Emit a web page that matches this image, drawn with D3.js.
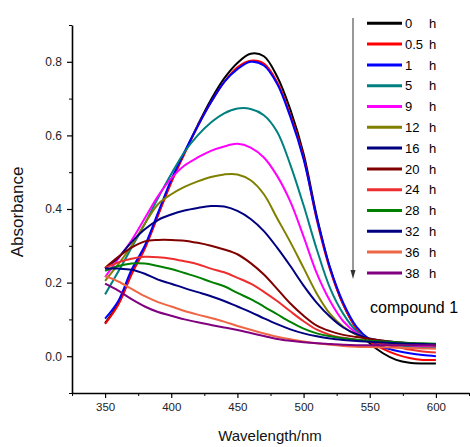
<!DOCTYPE html>
<html>
<head>
<meta charset="utf-8">
<script src="https://cdn.jsdelivr.net/npm/d3@7"></script>
<style>
  body { margin: 0; background: #fff; }
  text { font-family: Arial, "Liberation Sans", sans-serif; }
</style>
</head>
<body>
<div id="chart"></div>
<script>
// Wavelengths (nm) sampled from the spectra
const wavelengths = [350, 360, 370, 380, 390, 400, 410, 420, 430, 440, 450, 460, 470,
                     480, 490, 500, 510, 520, 530, 540, 550, 560, 570, 580, 590, 600];

// Absorbance, one array per time
const abs0h  = [0.090, 0.143, 0.225, 0.295, 0.385, 0.475, 0.553, 0.628, 0.697, 0.755, 0.797, 0.822, 0.815,
                0.760, 0.670, 0.550, 0.380, 0.240, 0.140, 0.075, 0.035, 0.008, -0.010, -0.018, -0.020, -0.020];
const abs05h = [0.088, 0.140, 0.222, 0.292, 0.382, 0.472, 0.550, 0.625, 0.690, 0.745, 0.785, 0.803, 0.795,
                0.745, 0.655, 0.540, 0.370, 0.235, 0.140, 0.075, 0.040, 0.020, 0.005, -0.005, -0.010, -0.010];
const abs1h  = [0.102, 0.150, 0.235, 0.300, 0.390, 0.480, 0.555, 0.625, 0.690, 0.745, 0.780, 0.800, 0.790,
                0.740, 0.650, 0.535, 0.375, 0.240, 0.145, 0.080, 0.045, 0.025, 0.015, 0.008, 0.003, 0.000];
const abs5h  = [0.168, 0.230, 0.295, 0.360, 0.430, 0.495, 0.555, 0.600, 0.635, 0.660, 0.673, 0.672, 0.655,
                0.610, 0.520, 0.410, 0.290, 0.185, 0.115, 0.068, 0.045, 0.035, 0.030, 0.027, 0.025, 0.024];
const abs9h  = [0.215, 0.265, 0.315, 0.375, 0.435, 0.483, 0.518, 0.540, 0.558, 0.570, 0.577, 0.567, 0.540,
                0.490, 0.420, 0.325, 0.225, 0.150, 0.095, 0.063, 0.045, 0.037, 0.033, 0.030, 0.028, 0.027];
const abs12h = [0.205, 0.250, 0.300, 0.360, 0.413, 0.440, 0.460, 0.475, 0.487, 0.494, 0.494, 0.478, 0.440,
                0.375, 0.310, 0.240, 0.170, 0.115, 0.080, 0.058, 0.045, 0.038, 0.034, 0.031, 0.030, 0.029];
const abs16h = [0.238, 0.268, 0.310, 0.345, 0.370, 0.385, 0.396, 0.403, 0.408, 0.407, 0.395, 0.373, 0.340,
                0.295, 0.245, 0.192, 0.145, 0.107, 0.078, 0.060, 0.048, 0.042, 0.038, 0.035, 0.033, 0.032];
const abs20h = [0.240, 0.270, 0.295, 0.312, 0.316, 0.316, 0.314, 0.308, 0.300, 0.290, 0.277, 0.253, 0.222,
                0.183, 0.143, 0.110, 0.083, 0.068, 0.058, 0.052, 0.047, 0.042, 0.038, 0.035, 0.032, 0.030];
const abs24h = [0.240, 0.255, 0.265, 0.270, 0.269, 0.265, 0.258, 0.250, 0.238, 0.228, 0.213, 0.197, 0.175,
                0.150, 0.122, 0.095, 0.072, 0.058, 0.050, 0.045, 0.040, 0.033, 0.025, 0.018, 0.013, 0.010];
const abs28h = [0.232, 0.245, 0.252, 0.252, 0.245, 0.237, 0.226, 0.215, 0.202, 0.190, 0.172, 0.155, 0.135,
                0.114, 0.093, 0.075, 0.062, 0.054, 0.049, 0.045, 0.042, 0.040, 0.038, 0.036, 0.035, 0.034];
const abs32h = [0.238, 0.238, 0.235, 0.224, 0.208, 0.197, 0.185, 0.174, 0.163, 0.150, 0.135, 0.120, 0.103,
                0.087, 0.073, 0.062, 0.054, 0.048, 0.044, 0.041, 0.039, 0.037, 0.035, 0.034, 0.033, 0.032];
const abs36h = [0.218, 0.203, 0.183, 0.163, 0.147, 0.135, 0.123, 0.113, 0.104, 0.094, 0.082, 0.072, 0.062,
                0.053, 0.046, 0.040, 0.035, 0.031, 0.028, 0.026, 0.025, 0.024, 0.023, 0.022, 0.021, 0.020];
const abs38h = [0.197, 0.178, 0.155, 0.135, 0.120, 0.110, 0.100, 0.092, 0.085, 0.078, 0.071, 0.063, 0.055,
                0.047, 0.042, 0.038, 0.035, 0.033, 0.031, 0.030, 0.030, 0.030, 0.030, 0.030, 0.030, 0.030];

const timeLabels = ["0", "0.5", "1", "5", "9", "12", "16", "20", "24", "28", "32", "36", "38"];
const seriesValues = [abs0h, abs05h, abs1h, abs5h, abs9h, abs12h, abs16h, abs20h, abs24h, abs28h, abs32h, abs36h, abs38h];
const colors = ["#000000", "#ff0000", "#0000ff", "#008080", "#ff00ff", "#808000", "#000080",
                "#800000", "#ee2e2e", "#008000", "#000080", "#ee6644", "#800080"];

const xMajor = [350, 400, 450, 500, 550, 600];
const yMajor = [0.0, 0.2, 0.4, 0.6, 0.8];

const W = 470, H = 447;
const margin = {top: 25, right: 1, bottom: 54, left: 72};
const width = W - margin.left - margin.right,
      height = H - margin.top - margin.bottom;

const svg = d3.select("#chart")
  .append("svg")
    .attr("width", W)
    .attr("height", H);

const g = svg.append("g")
    .attr("transform", `translate(${margin.left},${margin.top})`);

const x = d3.scaleLinear().domain([325, 625]).range([0, width]);
const y = d3.scaleLinear().domain([-0.1, 0.9]).range([height, 0]);

// Minor ticks
g.append("g")
    .attr("transform", `translate(0,${height})`)
    .call(d3.axisBottom(x).tickValues(d3.range(325, 626, 25).filter(v => v % 50 !== 0))
      .tickSize(3).tickFormat("").tickSizeOuter(0))
    .call(a => a.select(".domain").remove());
g.append("g")
    .call(d3.axisLeft(y).tickValues([-0.1, 0.1, 0.3, 0.5, 0.7, 0.9]).tickSize(3).tickFormat("").tickSizeOuter(0))
    .call(a => a.select(".domain").remove());

// Major axes
const xAxis = g.append("g")
    .attr("transform", `translate(0,${height})`)
    .call(d3.axisBottom(x).tickValues(xMajor).tickSize(5).tickPadding(5).tickSizeOuter(0));
const yAxis = g.append("g")
    .call(d3.axisLeft(y).tickValues(yMajor).tickFormat(d3.format(".1f")).tickSize(5).tickPadding(5).tickSizeOuter(0));

[xAxis, yAxis].forEach(a => {
  a.select(".domain").attr("stroke-width", 1.6);
  a.selectAll(".tick line").attr("stroke-width", 1.2);
  a.selectAll(".tick text").attr("fill", "#222").attr("font-family", "Arial, 'Liberation Sans', sans-serif");
});
xAxis.selectAll(".tick text").attr("font-size", 11.5);
yAxis.selectAll(".tick text").attr("font-size", 12);
g.selectAll(".tick line").attr("stroke", "#000");

// Spectra
const line = d3.line()
    .x((d, i) => x(wavelengths[i]))
    .y(d => y(d))
    .curve(d3.curveCatmullRom.alpha(0.5));

g.selectAll(".spectrum")
  .data(seriesValues)
  .join("path")
    .attr("class", "spectrum")
    .attr("fill", "none")
    .attr("stroke", (d, i) => colors[i])
    .attr("stroke-width", 2)
    .attr("d", line);

// Axis titles
svg.append("text")
    .attr("text-anchor", "middle")
    .attr("x", 270)
    .attr("y", 441)
    .attr("font-size", 15)
    .attr("fill", "#111")
    .text("Wavelength/nm");

svg.append("text")
    .attr("text-anchor", "middle")
    .attr("transform", "rotate(-90)")
    .attr("x", -212)
    .attr("y", 23)
    .attr("font-size", 17)
    .attr("fill", "#111")
    .text("Absorbance");

// Legend
const legend = svg.append("g");
const rowY = i => 23.3 + i * 20.8;

legend.selectAll(".lg-line")
  .data(timeLabels)
  .join("line")
    .attr("x1", 367).attr("x2", 402)
    .attr("y1", (d, i) => rowY(i)).attr("y2", (d, i) => rowY(i))
    .attr("stroke", (d, i) => colors[i])
    .attr("stroke-width", 3);

legend.selectAll(".lg-num")
  .data(timeLabels)
  .join("text")
    .attr("x", 405)
    .attr("y", (d, i) => rowY(i) + 4.7)
    .attr("font-size", 13)
    .text(d => d);

legend.selectAll(".lg-h")
  .data(timeLabels)
  .join("text")
    .attr("x", 429)
    .attr("y", (d, i) => rowY(i) + 4.7)
    .attr("font-size", 13)
    .text("h");

// Time arrow
legend.append("line")
    .attr("x1", 353).attr("x2", 353)
    .attr("y1", 18).attr("y2", 272)
    .attr("stroke", "#333")
    .attr("stroke-width", 1);
legend.append("path")
    .attr("d", "M350.5,270 L355.5,270 L353,279 Z")
    .attr("fill", "#333");

svg.append("text")
    .attr("x", 370)
    .attr("y", 313)
    .attr("font-size", 16)
    .text("compound 1");
</script>
</body>
</html>
